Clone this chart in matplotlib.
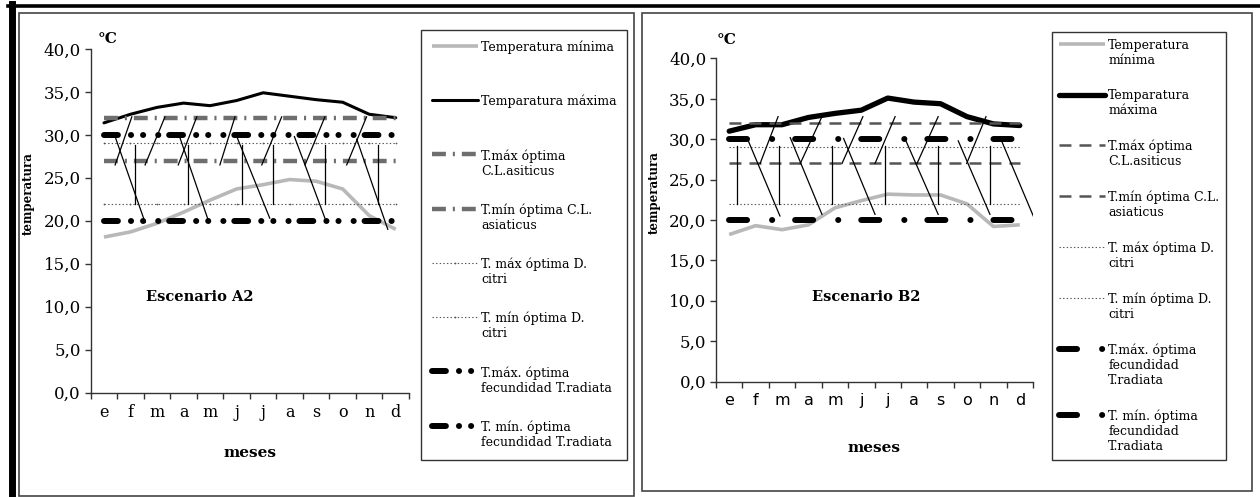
import numpy as np
import matplotlib
matplotlib.use("Agg")
import matplotlib.pyplot as plt
from matplotlib.lines import Line2D
from matplotlib.patches import Rectangle

plt.rcParams['lines.scale_dashes'] = False
plt.rcParams['font.family'] = ['DejaVu Serif']

months = ['e', 'f', 'm', 'a', 'm', 'j', 'j', 'a', 's', 'o', 'n', 'd']

# escenario A2
a2_tmin = [18.1, 18.7, 19.7, 21.0, 22.4, 23.7, 24.2, 24.8, 24.6, 23.7, 20.6, 19.0]
a2_tmax = [31.4, 32.4, 33.2, 33.7, 33.4, 34.0, 34.9, 34.5, 34.1, 33.8, 32.4, 32.0]
# escenario B2
b2_tmin = [18.2, 19.3, 18.8, 19.4, 21.5, 22.4, 23.2, 23.1, 23.1, 22.0, 19.2, 19.4]
b2_tmax = [31.0, 31.8, 31.8, 32.7, 33.2, 33.6, 35.1, 34.6, 34.4, 32.8, 31.9, 31.7]

# umbrales
cl_max, cl_min = 32.0, 27.0
dc_max, dc_min = 29.0, 22.0
tr_max, tr_min = 30.0, 20.0

# trazos sueltos sobre el grafico (x en indice de mes, y en grados)
a2_slash_x0 = [0.42, 1.55, 2.80, 4.37, 5.95, 7.58, 9.15]
a2_slash_x1 = [1.05, 2.30, 3.50, 4.94, 6.70, 8.33, 9.90]
a2_slash_y = (26.5, 32.1)
a2_back_x0 = [0.42, 2.85, 5.02, 7.18, 9.53]
a2_back_x1 = [1.55, 3.96, 6.25, 8.33, 10.70]
a2_back_y0 = [29.8, 29.8, 29.7, 29.8, 29.5]
a2_back_y1 = [19.8, 19.8, 20.3, 20.3, 19.0]
a2_vert_x = [1.17, 3.18, 5.19, 6.38, 8.33, 10.34]
a2_vert_y = (28.8, 22.0)

b2_slash_x0 = [1.17, 2.69, 4.27, 5.52, 7.11, 8.99]
b2_slash_x1 = [1.85, 3.51, 5.06, 6.28, 7.91, 9.72]
b2_slash_y = (27.0, 32.8)
b2_back_x0 = [0.67, 2.31, 4.33, 6.65, 8.67, 10.31]
b2_back_x1 = [1.92, 3.51, 5.52, 7.91, 9.87, 11.51]
b2_back_y0 = [30.2, 30.2, 30.1, 30.1, 29.8, 29.8]
b2_back_y1 = [20.5, 20.7, 20.7, 20.7, 20.7, 20.5]
b2_vert_x = [0.29, 1.87, 3.89, 5.90, 7.91, 9.87]
b2_vert_y = (29.2, 22.0)

labels_a2 = ['Temperatura mínima\n', 'Temparatura máxima\n',
             'T.máx óptima\nC.L.asiticus', 'T.mín óptima C.L.\nasiaticus',
             'T. máx óptima D.\ncitri', 'T. mín óptima D.\ncitri',
             'T.máx. óptima\nfecundidad T.radiata',
             'T. mín. óptima\nfecundidad T.radiata']
labels_b2 = ['Temperatura\nmínima', 'Temparatura\nmáxima',
             'T.máx óptima\nC.L.asiticus', 'T.mín óptima C.L.\nasiaticus',
             'T. máx óptima D.\ncitri', 'T. mín óptima D.\ncitri',
             'T.máx. óptima\nfecundidad\nT.radiata',
             'T. mín. óptima\nfecundidad\nT.radiata']

W, H = 1260, 497
fig = plt.figure(figsize=(W / 100, H / 100), dpi=100)


def fx(px):
    return px / W


def fy(py):
    return 1 - py / H


# marcos
fig.add_artist(Rectangle((fx(19), fy(496)), fx(634 - 19), (496 - 13) / H,
                         transform=fig.transFigure, fill=False, ec='#444444', lw=1.2))
fig.add_artist(Rectangle((fx(642), fy(491)), fx(1252 - 642), (491 - 13) / H,
                         transform=fig.transFigure, fill=False, ec='#444444', lw=1.2))
fig.add_artist(Line2D([fx(8), 1], [fy(6), fy(6)], transform=fig.transFigure,
                      color='black', lw=2.6))
fig.add_artist(Line2D([fx(11.5), fx(11.5)], [fy(4), 0], transform=fig.transFigure,
                      color='black', lw=5))


def draw_panel(ax, tmin, tmax, style, segs, xfont):
    x = np.arange(12)
    h = []
    h += ax.plot(x, tmin, color='#b8b8b8', lw=style['lw_min'], solid_capstyle='butt')
    h += ax.plot(x, tmax, color='black', lw=style['lw_max'], solid_capstyle='round')
    for v in (cl_max, cl_min):
        h += ax.plot(x, [v] * 12, color=style['cl_color'], lw=style['lw_cl'],
                     dashes=style['cl_dash'], dash_capstyle='butt')
    for v in (dc_max, dc_min):
        h += ax.plot(x, [v] * 12, color='#555555', lw=0.8, linestyle=(0, (1, 1.6)),
                     marker=style['dc_marker'], markersize=2.5, markeredgewidth=0)
    for v in (tr_max, tr_min):
        h += ax.plot(x, [v] * 12, color='black', lw=4.3, dashes=style['tr_dash'],
                     dash_capstyle='round')

    sx0, sx1, sy, bx0, bx1, by0, by1, vx, vy = segs
    for x0, x1 in zip(sx0, sx1):
        ax.plot([x0, x1], [sy[0], sy[1]], color='black', lw=0.9)
    for x0, x1, y0, y1 in zip(bx0, bx1, by0, by1):
        ax.plot([x0, x1], [y0, y1], color='black', lw=0.9)
    for xv in vx:
        ax.plot([xv, xv], [vy[0], vy[1]], color='black', lw=0.9)

    ax.set_xlim(-0.5, 11.5)
    ax.set_ylim(0, 40)
    ax.set_xticks(np.arange(-0.5, 12, 1))
    ax.set_xticklabels([])
    ax.set_xticks(x, minor=True)
    ax.set_xticklabels(months, minor=True, family=xfont, fontsize=11.5)
    ax.tick_params(axis='x', which='major', length=4, width=1, color='#333333')
    ax.tick_params(axis='x', which='minor', length=0, pad=8)
    yt = np.arange(0, 41, 5)
    ax.set_yticks(yt)
    ax.set_yticklabels([f'{v:.1f}'.replace('.', ',') for v in yt], fontsize=12)
    ax.tick_params(axis='y', length=4, width=1, color='#333333', pad=3)
    for s in ('top', 'right'):
        ax.spines[s].set_visible(False)
    for s in ('left', 'bottom'):
        ax.spines[s].set_color('#333333')
        ax.spines[s].set_linewidth(1)
    ax.set_facecolor('none')
    return h


def add_legend(ax, handles, labels, left, top, spacing, pad):
    leg = ax.legend(handles, labels, loc='upper left',
                    bbox_to_anchor=(fx(left), fy(top)), bbox_transform=fig.transFigure,
                    fancybox=False, edgecolor='#333333', framealpha=1,
                    prop={'family': 'DejaVu Serif', 'size': 9},
                    handlelength=3.7, handletextpad=0.25, handleheight=1.2,
                    labelspacing=spacing, borderpad=pad, borderaxespad=0)
    leg.get_frame().set_linewidth(1.0)
    # alinear el simbolo con la primera linea del texto
    for col in leg._legend_handle_box.get_children():
        for item in col.get_children():
            item.align = 'top'
    return leg


# ---- A2
ax1 = fig.add_axes([fx(90.7), fy(392.5), fx(409 - 90.7), (392.5 - 49) / H])
style_a2 = dict(lw_min=2.6, lw_max=2.2, cl_color='#6e6e6e', lw_cl=3.2,
                cl_dash=[10, 5, 1.5, 5], dc_marker='.',
                tr_dash=[10, 9.4, 0.1, 8.6, 0.1, 10.8, 0.1, 7.8])
h1 = draw_panel(ax1, a2_tmin, a2_tmax, style_a2,
                (a2_slash_x0, a2_slash_x1, a2_slash_y, a2_back_x0, a2_back_x1,
                 a2_back_y0, a2_back_y1, a2_vert_x, a2_vert_y), 'DejaVu Serif')
ax1.set_xlabel('meses', fontweight='bold', fontsize=11, labelpad=18)
ax1.set_ylabel('temperatura', fontweight='bold', fontsize=8.5)
ax1.yaxis.set_label_coords(-0.175, 0.58)
ax1.text(0.023, 1.03, '°C', transform=ax1.transAxes, fontweight='bold',
         fontsize=11, va='center', ha='left')
ax1.text(0.343, 0.278, 'Escenario A2', transform=ax1.transAxes, fontweight='bold',
         fontsize=10.5, va='center', ha='center')
add_legend(ax1, h1, labels_a2, 421, 30, 2.06, 0.85)

# ---- B2
ax2 = fig.add_axes([fx(716), fy(381.5), fx(1033 - 716), (381.5 - 58.5) / H])
style_b2 = dict(lw_min=2.6, lw_max=3.8, cl_color='#555555', lw_cl=1.8,
                cl_dash=[8.6, 5.8], dc_marker=None,
                tr_dash=[13, 18, 0.1, 16.5])
h2 = draw_panel(ax2, b2_tmin, b2_tmax, style_b2,
                (b2_slash_x0, b2_slash_x1, b2_slash_y, b2_back_x0, b2_back_x1,
                 b2_back_y0, b2_back_y1, b2_vert_x, b2_vert_y), 'DejaVu Sans')
ax2.set_xlabel('meses', fontweight='bold', fontsize=11, labelpad=24)
ax2.set_ylabel('temperatura', fontweight='bold', fontsize=8.5)
ax2.yaxis.set_label_coords(-0.174, 0.584)
ax2.text(0.003, 1.057, '°C', transform=ax2.transAxes, fontweight='bold',
         fontsize=11, va='center', ha='left')
ax2.text(0.473, 0.262, 'Escenario B2', transform=ax2.transAxes, fontweight='bold',
         fontsize=10.5, va='center', ha='center')
add_legend(ax2, h2, labels_b2, 1052, 32, 1.8, 0.55)

fig.savefig('out.png', dpi=100)
